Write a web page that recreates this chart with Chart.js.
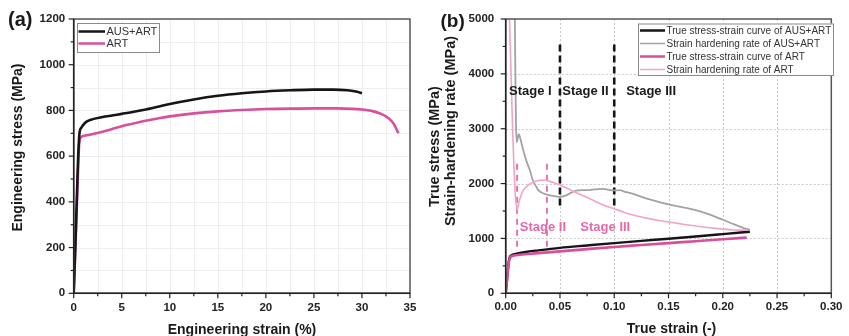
<!DOCTYPE html>
<html>
<head>
<meta charset="utf-8">
<script src="https://cdn.jsdelivr.net/npm/chart.js@4.4.1/dist/chart.umd.min.js"></script>
<style>
  html, body { margin: 0; padding: 0; background: #fff; }
  #wrap { position: relative; width: 849px; height: 336px; overflow: hidden; background: #fff; }
  canvas { position: absolute; top: 0; }
  #chartA { left: 0; }
  #chartB { left: 424px; }
</style>
</head>
<body>
<div id="wrap">
  <canvas id="chartA" width="424" height="336"></canvas>
  <canvas id="chartB" width="425" height="336"></canvas>
</div>
<script>
// ---------- (a) engineering stress–strain ----------
const engStrainAusArt = [0, 0.15, 0.3, 0.45, 0.6, 0.8, 1.0, 1.3, 2, 3, 4, 5, 6, 7.5, 9, 10, 12.5, 15, 17.5, 20, 22.5, 25, 27, 28.5, 29.5, 30];
const engStressAusArt = [0, 180, 380, 580, 700, 725, 737, 750, 762, 771, 778, 785, 792, 804, 818, 828, 848, 864, 875, 883, 888, 891, 891, 888, 882, 875];
const engStrainArt = [0, 0.2, 0.4, 0.55, 0.7, 1, 2, 3, 4, 5, 6, 7.5, 9, 10, 12.5, 15, 17.5, 20, 22.5, 25, 27.5, 29, 30, 31, 32, 32.8, 33.3, 33.8];
const engStressArt = [0, 230, 470, 640, 680, 688, 697, 707, 719, 731, 741, 755, 767, 774, 787, 796, 802, 806, 808, 809, 809, 807, 804, 798, 785, 765, 742, 700];

// ---------- (b) true stress–strain ----------
const trueStrainAusArt = [0, 0.001, 0.002, 0.003, 0.004, 0.006, 0.01, 0.02, 0.03, 0.05, 0.075, 0.1, 0.125, 0.15, 0.175, 0.2, 0.225];
const trueStressAusArt = [0, 200, 420, 600, 670, 700, 722, 758, 783, 828, 872, 915, 955, 995, 1035, 1078, 1122];
const trueStrainArt = [0, 0.001, 0.002, 0.003, 0.0045, 0.007, 0.01, 0.02, 0.03, 0.05, 0.075, 0.1, 0.125, 0.15, 0.175, 0.2, 0.222];
const trueStressArt = [0, 190, 400, 580, 660, 685, 695, 715, 732, 765, 805, 845, 880, 915, 950, 985, 1015];

// ---------- (b) strain-hardening rate ----------
const hardStrainAusArt = [0.0082, 0.0088, 0.0095, 0.0102, 0.011, 0.012, 0.014, 0.016, 0.018, 0.02, 0.022, 0.025, 0.028, 0.03, 0.035, 0.04, 0.045, 0.05, 0.055, 0.06, 0.065, 0.07, 0.075, 0.08, 0.085, 0.09, 0.095, 0.1, 0.105, 0.11, 0.115, 0.12, 0.13, 0.14, 0.15, 0.16, 0.17, 0.18, 0.19, 0.2, 0.21, 0.22, 0.225];
const hardRateAusArt = [5600, 4200, 3100, 2750, 2820, 2900, 2780, 2620, 2480, 2360, 2260, 2060, 1950, 1880, 1820, 1790, 1770, 1755, 1780, 1830, 1870, 1880, 1880, 1890, 1900, 1905, 1885, 1875, 1880, 1850, 1825, 1795, 1725, 1670, 1620, 1580, 1540, 1490, 1420, 1340, 1260, 1185, 1155];
const hardStrainArt = [0.0026, 0.0035, 0.0045, 0.0055, 0.0065, 0.0078, 0.009, 0.0105, 0.012, 0.014, 0.016, 0.02, 0.025, 0.03, 0.035, 0.04, 0.045, 0.05, 0.055, 0.06, 0.07, 0.08, 0.09, 0.1, 0.11, 0.12, 0.13, 0.14, 0.15, 0.16, 0.17, 0.18, 0.19, 0.2, 0.21, 0.222];
const hardRateArt = [5600, 5000, 4300, 3600, 2900, 2200, 1750, 1520, 1650, 1780, 1870, 1960, 2020, 2055, 2065, 2045, 2010, 1975, 1930, 1880, 1790, 1700, 1610, 1540, 1470, 1415, 1370, 1330, 1300, 1270, 1240, 1212, 1190, 1170, 1155, 1150];

// ---------- stage boundaries ----------
const stageLinesAusArt = [0.05, 0.10];
const stageSpanAusArt = [1600, 4580];
const stageLinesArt = [0.0105, 0.038];
const stageSpanArt = [850, 2370];
const stageNamesAusArt = ['Stage I', 'Stage II', 'Stage III'];
const stageAtAusArt = [[0.003, 3685], [0.0522, 3685], [0.111, 3685]];
const stageNamesArt = ['Stage II', 'Stage III'];
const stageAtArt = [[0.013, 1195], [0.0688, 1195]];

// ---------- ticks ----------
const engStrainTicks = [0, 5, 10, 15, 20, 25, 30, 35];
const engStressTicks = [0, 200, 400, 600, 800, 1000, 1200];
const trueStrainTicks = [0, 0.05, 0.10, 0.15, 0.20, 0.25, 0.30];
const trueStressTicks = [0, 1000, 2000, 3000, 4000, 5000];

// ---------- legend labels ----------
const legendA = ['AUS+ART', 'ART'];
const legendB = ['True stress-strain curve of AUS+ART', 'Strain hardening rate of AUS+ART',
                 'True stress-strain curve of ART', 'Strain hardening rate of ART'];

const FONT = '"Liberation Sans", Arial, Helvetica, sans-serif';
const C_BLACK = '#151515';
const C_ART = '#d94f9c';
const C_GRAY = '#a2a2a2';
const C_PINK_LIGHT = '#f2a4c6';
const C_STAGE_PINK = '#e36aa9';

Chart.defaults.font.family = FONT;

const pts = (xs, ys) => xs.map((x, i) => ({ x, y: ys[i] }));
const mids = (vals) => vals.slice(1).map((v, i) => (v + vals[i]) / 2);

function lineSet(label, xs, ys, color, width, extra) {
  return Object.assign({
    label, data: pts(xs, ys), borderColor: color, backgroundColor: color,
    borderWidth: width, pointRadius: 0, showLine: true, fill: false,
    cubicInterpolationMode: 'monotone'
  }, extra || {});
}
function dashSets(xs, span, color, width, dash) {
  return xs.map(x => ({
    label: '', data: [{ x, y: span[0] }, { x, y: span[1] }], borderColor: color,
    borderWidth: width, borderDash: dash, pointRadius: 0, showLine: true, fill: false, tension: 0
  }));
}

// Frame, grid, tick marks, titles, legend and text notes for a panel
const panelDecor = {
  id: 'panelDecor',
  beforeDatasetsDraw(chart, args, o) {
    const { ctx, chartArea: a, scales: { x, y } } = chart;
    ctx.save();
    ctx.lineWidth = 1;
    ctx.strokeStyle = o.gridColor;
    ctx.setLineDash(o.gridDash || []);
    const gx = o.gridMinor ? o.xTicks.concat(mids(o.xTicks)) : o.xTicks;
    const gy = o.gridMinor ? o.yTicks.concat(mids(o.yTicks)) : o.yTicks;
    gx.forEach(v => {
      const px = Math.round(x.getPixelForValue(v)) + 0.5;
      if (px <= a.left + 1 || px >= a.right - 1) return;
      ctx.beginPath(); ctx.moveTo(px, a.top); ctx.lineTo(px, a.bottom); ctx.stroke();
    });
    gy.forEach(v => {
      const py = Math.round(y.getPixelForValue(v)) + 0.5;
      if (py <= a.top + 1 || py >= a.bottom - 1) return;
      ctx.beginPath(); ctx.moveTo(a.left, py); ctx.lineTo(a.right, py); ctx.stroke();
    });
    ctx.restore();
  },
  afterDatasetsDraw(chart, args, o) {
    const { ctx, chartArea: a, scales: { x, y } } = chart;
    ctx.save();
    // frame
    ctx.setLineDash([]);
    ctx.strokeStyle = '#555';
    ctx.lineWidth = 1.5;
    ctx.strokeRect(a.left, a.top, a.right - a.left, a.bottom - a.top);
    ctx.strokeStyle = '#222';
    ctx.beginPath(); ctx.moveTo(a.left, a.top); ctx.lineTo(a.left, a.bottom); ctx.lineTo(a.right, a.bottom); ctx.stroke();
    // tick marks (outward)
    ctx.lineWidth = 1.2;
    const tickX = (v, len) => { const p = x.getPixelForValue(v); ctx.beginPath(); ctx.moveTo(p, a.bottom); ctx.lineTo(p, a.bottom + len); ctx.stroke(); };
    const tickY = (v, len) => { const p = y.getPixelForValue(v); ctx.beginPath(); ctx.moveTo(a.left, p); ctx.lineTo(a.left - len, p); ctx.stroke(); };
    o.xTicks.forEach(v => tickX(v, 5)); mids(o.xTicks).forEach(v => tickX(v, 3));
    o.yTicks.forEach(v => tickY(v, 5)); mids(o.yTicks).forEach(v => tickY(v, 3));

    // stage notes
    ctx.textBaseline = 'middle';
    ctx.textAlign = 'left';
    ctx.font = 'bold 13px ' + FONT;
    (o.notes || []).forEach(n => {
      ctx.fillStyle = n.color;
      ctx.fillText(n.text, x.getPixelForValue(n.at[0]), y.getPixelForValue(n.at[1]));
    });

    // legend
    const L = o.legend;
    ctx.fillStyle = '#fff';
    ctx.fillRect(L.x, L.y, L.w, L.h);
    ctx.strokeStyle = '#8a8a8a';
    ctx.lineWidth = 1;
    ctx.strokeRect(L.x + 0.5, L.y + 0.5, L.w, L.h);
    ctx.font = L.font + ' ' + FONT;
    ctx.textBaseline = 'middle';
    L.items.forEach((it, i) => {
      const yy = L.y + L.first + i * L.step;
      ctx.strokeStyle = it.color; ctx.lineWidth = it.width;
      ctx.beginPath(); ctx.moveTo(L.x + L.lineFrom, yy); ctx.lineTo(L.x + L.lineTo, yy); ctx.stroke();
      ctx.fillStyle = '#333';
      ctx.fillText(it.text, L.x + L.textAt, yy + 0.5);
    });
    ctx.restore();
  },
  afterDraw(chart, args, o) {
    const { ctx } = chart;
    ctx.save();
    ctx.fillStyle = '#1a1a1a';
    // panel tag
    ctx.font = 'bold ' + o.tag.size + 'px ' + FONT;
    ctx.textAlign = 'left'; ctx.textBaseline = 'alphabetic';
    ctx.fillText(o.tag.text, o.tag.x, o.tag.y);
    // x title
    ctx.font = 'bold 14px ' + FONT;
    ctx.textAlign = 'center';
    ctx.fillText(o.xTitle.text, o.xTitle.x, o.xTitle.y);
    // y titles
    o.yTitles.forEach(t => {
      ctx.save();
      ctx.translate(t.x, t.y);
      ctx.rotate(-Math.PI / 2);
      ctx.font = 'bold ' + t.size + 'px ' + FONT;
      ctx.textAlign = 'center'; ctx.textBaseline = 'middle';
      ctx.fillText(t.text, 0, 0);
      ctx.restore();
    });
    ctx.restore();
  }
};

function axes(xMin, xMax, yMin, yMax, xTicks, yTicks, xFmt, leftW, bottomH, xPad, yPad) {
  const common = { border: { display: false }, grid: { display: false, drawTicks: false } };
  return {
    x: Object.assign({}, common, {
      type: 'linear', min: xMin, max: xMax,
      afterBuildTicks: s => { s.ticks = xTicks.map(v => ({ value: v })); },
      afterFit: s => { s.height = bottomH; },
      ticks: { padding: xPad, color: '#222', font: { size: 11.5, weight: 'bold' }, maxRotation: 0, autoSkip: false, callback: xFmt }
    }),
    y: Object.assign({}, common, {
      type: 'linear', min: yMin, max: yMax,
      afterBuildTicks: s => { s.ticks = yTicks.map(v => ({ value: v })); },
      afterFit: s => { s.width = leftW; },
      ticks: { padding: yPad, color: '#222', font: { size: 11.5, weight: 'bold' }, autoSkip: false, callback: v => String(v) }
    })
  };
}

const baseOpts = {
  responsive: false, animation: false, devicePixelRatio: 1,
  events: [],
  plugins: { legend: { display: false }, tooltip: { enabled: false } }
};

// ---------- panel (a) ----------
new Chart(document.getElementById('chartA'), {
  type: 'scatter',
  data: {
    datasets: [
      lineSet(legendA[0], engStrainAusArt, engStressAusArt, C_BLACK, 2.6),
      lineSet(legendA[1], engStrainArt, engStressArt, C_ART, 2.6)
    ]
  },
  options: Object.assign({}, baseOpts, {
    layout: { padding: { left: 0, top: 19, right: 14, bottom: 0 } },
    scales: axes(0, 35, 0, 1200, engStrainTicks, engStressTicks, v => String(v), 73.7, 42.7, 7.5, 8.5),
    plugins: Object.assign({}, baseOpts.plugins, {
      panelDecor: {
        xTicks: engStrainTicks, yTicks: engStressTicks,
        gridColor: '#efefef', gridMinor: true,
        legend: {
          x: 77, y: 23, w: 82, h: 29, font: '11px', first: 8.5, step: 12,
          lineFrom: 1.5, lineTo: 28, textAt: 29.5,
          items: [{ text: legendA[0], color: C_BLACK, width: 2.5 }, { text: legendA[1], color: C_ART, width: 2.5 }]
        },
        tag: { text: '(a)', size: 20, x: 8, y: 26 },
        xTitle: { text: 'Engineering strain (%)', x: 242, y: 333.5 },
        yTitles: [{ text: 'Engineering stress (MPa)', x: 18.5, y: 147.5, size: 14 }]
      }
    })
  }),
  plugins: [panelDecor]
});

// ---------- panel (b) ----------
new Chart(document.getElementById('chartB'), {
  type: 'scatter',
  data: {
    datasets: [
      lineSet(legendB[3], hardStrainArt, hardRateArt, C_PINK_LIGHT, 1.6),
      lineSet(legendB[1], hardStrainAusArt, hardRateAusArt, C_GRAY, 1.8),
      lineSet(legendB[2], trueStrainArt, trueStressArt, C_ART, 2.6),
      lineSet(legendB[0], trueStrainAusArt, trueStressAusArt, C_BLACK, 2.4)
    ].concat(
      dashSets(stageLinesAusArt, stageSpanAusArt, C_BLACK, 2.6, [7, 4]),
      dashSets(stageLinesArt, stageSpanArt, '#e872ae', 2, [6, 5])
    )
  },
  options: Object.assign({}, baseOpts, {
    layout: { padding: { left: 0, top: 19, right: 12.3, bottom: 0 } },
    scales: axes(0, 0.30, 0, 5000, trueStrainTicks, trueStressTicks, v => Number(v).toFixed(2), 81.7, 42.7, 6.5, 11.5),
    plugins: Object.assign({}, baseOpts.plugins, {
      panelDecor: {
        xTicks: trueStrainTicks, yTicks: trueStressTicks,
        gridColor: '#c9c9c9', gridDash: [2, 2], gridMinor: false,
        notes: stageNamesAusArt.map((t, i) => ({ text: t, at: stageAtAusArt[i], color: '#1a1a1a' }))
          .concat(stageNamesArt.map((t, i) => ({ text: t, at: stageAtArt[i], color: C_STAGE_PINK }))),
        legend: {
          x: 214, y: 23.5, w: 195, h: 51.5, font: '10px', first: 7, step: 13,
          lineFrom: 2, lineTo: 27, textAt: 28.5,
          items: [
            { text: legendB[0], color: C_BLACK, width: 2.5 },
            { text: legendB[1], color: C_GRAY, width: 1.5 },
            { text: legendB[2], color: C_ART, width: 2.5 },
            { text: legendB[3], color: C_PINK_LIGHT, width: 1.5 }
          ]
        },
        tag: { text: '(b)', size: 19, x: 16.5, y: 27 },
        xTitle: { text: 'True strain (-)', x: 247.5, y: 333 },
        yTitles: [
          { text: 'True stress (MPa)', x: 10.5, y: 146.5, size: 14.5 },
          { text: 'Strain-hardening rate (MPa)', x: 26.5, y: 131, size: 14.5 }
        ]
      }
    })
  }),
  plugins: [panelDecor]
});
</script>
</body>
</html>
